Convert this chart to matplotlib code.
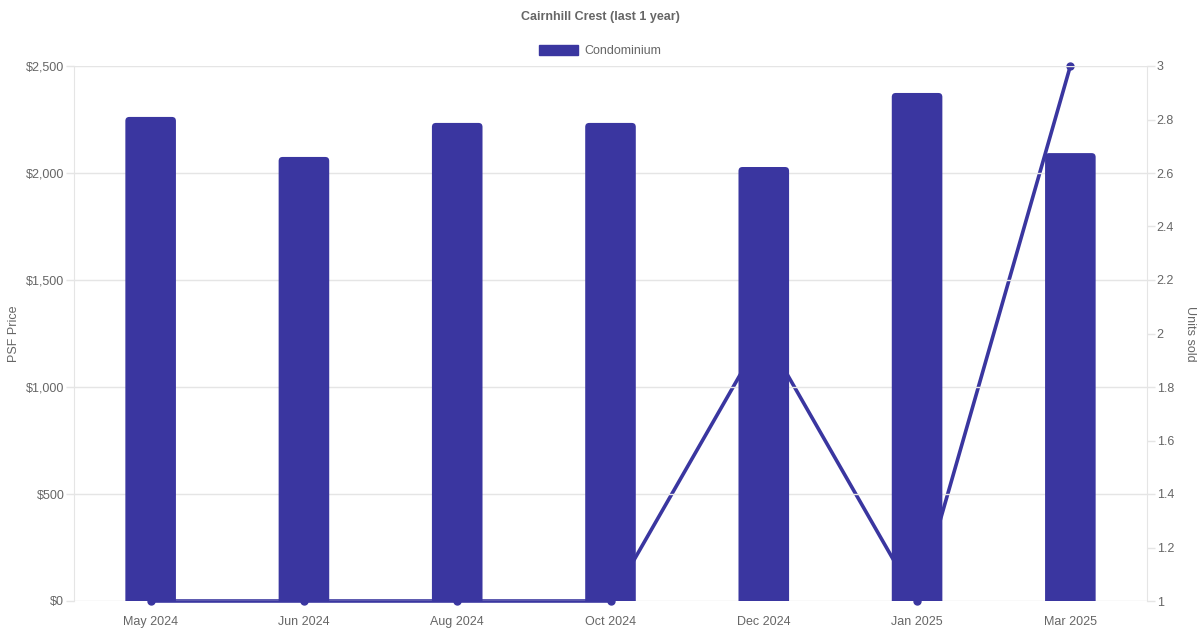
import matplotlib
matplotlib.use("Agg")
import matplotlib.pyplot as plt
from matplotlib.patches import FancyBboxPatch
from matplotlib.ticker import FuncFormatter, MultipleLocator

plt.rcParams['font.family'] = ['Liberation Sans', 'DejaVu Sans']

categories = ["May 2024", "Jun 2024", "Aug 2024", "Oct 2024", "Dec 2024", "Jan 2025", "Mar 2025"]
psf_price = [2262, 2075, 2234, 2234, 2028, 2374, 2093]
units_sold = [1, 1, 1, 1, 2, 1, 3]

BAR = "#3a36a0"
GREY = "#666666"
GRID = "#e5e5e5"

fig = plt.figure(figsize=(12, 6.3), dpi=100)
ax = fig.add_axes([74/1200, 1 - 601/630, (1147-74)/1200, (601-66)/630])
ax2 = ax.twinx()

x = list(range(len(categories)))

# line on the right axis (drawn below bars)
ax2.plot(x, units_sold, color=BAR, lw=2.6, marker='o', ms=5, clip_on=False, zorder=3)
ax2.set_ylim(1, 3)
ax2.yaxis.set_major_locator(MultipleLocator(0.2))
ax2.yaxis.set_major_formatter(FuncFormatter(lambda v, p: f"{v:g}"))

# bars on the left axis
bars = ax.bar(x, psf_price, width=0.33, color=BAR)
px_x = 153.3
px_y = 535 / 2500
r = 4
for b in bars:
    x0, w, h = b.get_x(), b.get_width(), b.get_height()
    b.set_visible(False)
    p = FancyBboxPatch((x0, -40), w, h + 40,
                       boxstyle=f"round,pad=0,rounding_size={r/px_x}",
                       mutation_aspect=(1/px_y) / (1/px_x),
                       facecolor=BAR, edgecolor='none', zorder=4)
    ax.add_patch(p)

ax.set_ylim(0, 2500)
ax.set_xlim(-0.5, len(categories) - 0.5)
ax.yaxis.set_major_locator(MultipleLocator(500))
ax.yaxis.set_major_formatter(FuncFormatter(lambda v, p: f"${v:,.0f}"))
ax.set_xticks(x)
ax.set_xticklabels(categories)

ax.set_zorder(ax2.get_zorder() + 1)
ax.patch.set_visible(False)

ax.grid(axis='y', color=GRID, lw=1)
ax.set_axisbelow(True)

for a in (ax, ax2):
    for s in ('top', 'bottom'):
        a.spines[s].set_visible(False)
    a.spines['left'].set_color(GRID)
    a.spines['right'].set_color(GRID)
    a.tick_params(colors=GRID, labelcolor=GREY, labelsize=9, length=6, width=1)
ax.spines['right'].set_visible(False)
ax2.spines['left'].set_visible(False)
ax.tick_params(axis='x', length=0, pad=11)
ax.tick_params(axis='y', pad=1)
ax2.tick_params(axis='y', pad=1)

ax.set_ylabel("PSF Price", color=GREY, fontsize=9, labelpad=4)
ax2.set_ylabel("Units sold", color=GREY, fontsize=9, rotation=270, labelpad=16)

fig.text(0.5, 1 - 17/630, "Cairnhill Crest (last 1 year)", ha='center', va='center',
         fontsize=9, fontweight='bold', color=GREY)

# legend
leg = ax.legend([bars[0]], ["Condominium"], loc='center', bbox_to_anchor=(0.5, 1 - 51/630),
                bbox_transform=fig.transFigure, frameon=False, fontsize=9, labelcolor=GREY,
                handlelength=3.1, handleheight=0.9, handletextpad=0.55, borderpad=0)
for h in leg.legend_handles:
    h.set_visible(True)
    h.set_color(BAR)

fig.savefig("out.png", dpi=100)
